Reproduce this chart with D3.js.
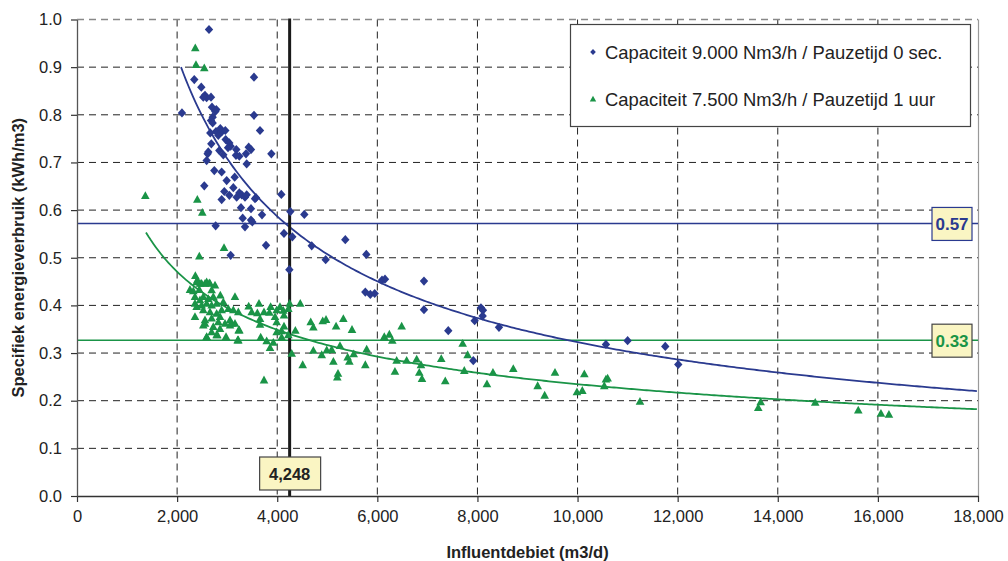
<!DOCTYPE html>
<html>
<head>
<meta charset="utf-8">
<script src="https://cdn.jsdelivr.net/npm/d3@7"></script>
<style>
  html, body { margin: 0; padding: 0; background: #fff; }
  svg { display: block; font-family: "Liberation Sans", Arial, sans-serif; }
</style>
</head>
<body>
<svg id="chart" width="1008" height="561"></svg>
<script>
// ---------- data ----------
const seriesNames = [
  "Capaciteit 9.000 Nm3/h / Pauzetijd 0 sec.",
  "Capaciteit 7.500 Nm3/h / Pauzetijd 1 uur"
];
// Series 1 (blue diamonds): [influent m3/d, kWh/m3]
const blueX = [2637,2343,2483,2557,2590,2523,2677,2697,2783,2763,2097,3536,3536,2710,2677,2710,3656,2663,2777,2863,2890,2963,2823,2970,2683,3043,3070,3017,3183,3430,3476,2623,2610,2843,2923,3176,3243,3376,3883,2590,3390,2743,2890,2990,3150,2543,2943,3043,3123,2890,3190,3243,3290,3356,3390,3276,3476,3556,3576,4082,3696,3310,3476,3503,3356,2770,4262,4541,4135,4302,3776,5360,4689,3070,4242,4968,5780,6093,6153,6932,5760,5860,5947,6932,7417,8070,8110,8104,7944,8430,10567,11000,11752,12012,7917];
const blueY = [0.979,0.874,0.858,0.841,0.836,0.837,0.837,0.816,0.811,0.807,0.804,0.879,0.799,0.795,0.788,0.783,0.767,0.762,0.765,0.771,0.764,0.767,0.757,0.748,0.739,0.741,0.734,0.731,0.727,0.732,0.727,0.722,0.718,0.725,0.716,0.715,0.713,0.718,0.718,0.704,0.697,0.683,0.680,0.662,0.669,0.651,0.639,0.631,0.647,0.622,0.627,0.636,0.632,0.627,0.632,0.605,0.603,0.624,0.626,0.633,0.590,0.583,0.579,0.575,0.565,0.567,0.597,0.591,0.551,0.544,0.526,0.538,0.525,0.505,0.475,0.496,0.507,0.453,0.455,0.451,0.428,0.423,0.425,0.391,0.347,0.395,0.390,0.378,0.368,0.354,0.318,0.326,0.314,0.276,0.284];
// Series 2 (green triangles)
const greenX = [2363,2377,2543,1365,2404,2503,2937,2444,2364,2404,2257,2324,2457,2557,2643,2757,2863,3156,2357,2357,2557,2590,2690,2803,2977,3210,2857,3057,3057,3230,3156,3430,3636,3869,4055,4249,4460,3490,3603,3736,3843,3989,4122,4222,3656,3956,4135,3656,3989,4135,3989,4089,4222,3670,3789,3922,3856,4089,4289,4362,3736,4509,4669,4722,4909,4975,5176,5321,5494,4722,4889,4989,5088,5122,5254,5408,5441,5528,5214,5200,5760,5787,6139,6240,6299,6486,6386,6586,6786,6872,7277,6352,6838,6892,7357,7705,7804,7737,8190,8310,8716,9203,9343,9549,9988,10095,10135,10534,10567,10601,11247,13658,13610,14748,15608,16061,16221,2390,2490,2590,2657,2443,2690,2357,2457,2523,2623,2723,2390,2490,2590,2690,2790,2923,2523,2657,2790,2890,3023,3123,3223,2557,2690,2823,2957,3090,2523,2723,2857,3243,2790,2590,3223];
const greenY = [0.940,0.905,0.898,0.630,0.622,0.595,0.521,0.503,0.462,0.453,0.433,0.430,0.446,0.446,0.447,0.442,0.421,0.418,0.404,0.376,0.362,0.334,0.344,0.338,0.334,0.327,0.376,0.369,0.358,0.348,0.362,0.398,0.404,0.397,0.397,0.404,0.404,0.386,0.384,0.386,0.385,0.390,0.389,0.393,0.372,0.376,0.379,0.360,0.365,0.356,0.344,0.346,0.338,0.333,0.325,0.322,0.311,0.333,0.299,0.347,0.243,0.275,0.365,0.354,0.367,0.370,0.356,0.372,0.349,0.305,0.296,0.306,0.307,0.282,0.315,0.291,0.282,0.298,0.257,0.249,0.275,0.308,0.334,0.339,0.326,0.356,0.284,0.284,0.287,0.275,0.288,0.261,0.259,0.246,0.241,0.320,0.296,0.263,0.235,0.259,0.267,0.231,0.211,0.259,0.218,0.221,0.256,0.231,0.245,0.247,0.198,0.197,0.185,0.196,0.180,0.173,0.171,0.449,0.446,0.449,0.446,0.433,0.432,0.418,0.411,0.418,0.414,0.418,0.397,0.400,0.404,0.400,0.404,0.407,0.390,0.386,0.383,0.390,0.393,0.390,0.386,0.369,0.373,0.365,0.362,0.362,0.358,0.355,0.351,0.348,0.338,0.333,0.327];
// Power trend lines y = a * x^b, [xStart, yStart, b]
const blueTrend = [2078, 0.90, -0.6526];
const greenTrend = [1378, 0.553, -0.4324];
// Reference values
const refLevels = [0.572, 0.327];
const refLabels = ["0.57", "0.33"];
const refX = 4248;
const refXLabel = "4,248";
// Axes
const xTicks = [0,2000,4000,6000,8000,10000,12000,14000,16000,18000];
const yTicks = [0,0.1,0.2,0.3,0.4,0.5,0.6,0.7,0.8,0.9,1.0];
const xTitle = "Influentdebiet (m3/d)";
const yTitle = "Specifiek energieverbruik (kWh/m3)";

// ---------- layout ----------
const BLUE = "#2a3a8f", GREEN = "#1a9447", BOXFILL = "#faf5c3";
const svg = d3.select("#chart");
const L = 77, R = 978, T = 19.5, B = 496;
const x = d3.scaleLinear().domain([0, 18000]).range([L, R]);
const y = d3.scaleLinear().domain([0, 1]).range([B, T]);

// gridlines
const grid = svg.append("g");
grid.selectAll("line.h").data(yTicks.filter(d => d > 0 && d < 1)).join("line")
  .attr("x1", L).attr("x2", R).attr("y1", d => y(d)).attr("y2", d => y(d))
  .attr("stroke", "#222").attr("stroke-width", 1).attr("stroke-dasharray", "7,5");
grid.selectAll("line.v").data(xTicks.filter(d => d > 0 && d < 18000)).join("line")
  .attr("y1", T).attr("y2", B).attr("x1", d => x(d)).attr("x2", d => x(d))
  .attr("stroke", "#222").attr("stroke-width", 1).attr("stroke-dasharray", "7,5");
// top & right border
svg.append("line").attr("x1", L).attr("x2", R).attr("y1", T).attr("y2", T)
  .attr("stroke", "#888").attr("stroke-width", 1.5).attr("stroke-dasharray", "7,5");
svg.append("line").attr("x1", R + 0.5).attr("x2", R + 0.5).attr("y1", T).attr("y2", B)
  .attr("stroke", "#999").attr("stroke-width", 1.2);

// horizontal reference lines
const refColors = [BLUE, GREEN];
svg.selectAll("line.ref").data(refLevels).join("line")
  .attr("x1", L).attr("x2", R).attr("y1", d => y(d)).attr("y2", d => y(d))
  .attr("stroke", (d, i) => refColors[i]).attr("stroke-width", 1.6);

// trend lines
function trendPts(t) {
  const [x0, y0, b] = t;
  const pts = [];
  for (let v = x0; v <= 18000; v += 50) pts.push([v, y0 * Math.pow(v / x0, b)]);
  return pts;
}
const line = d3.line().x(d => x(d[0])).y(d => y(d[1])).curve(d3.curveLinear);
svg.append("path").attr("d", line(trendPts(blueTrend))).attr("fill", "none")
  .attr("stroke", BLUE).attr("stroke-width", 1.8);
svg.append("path").attr("d", line(trendPts(greenTrend))).attr("fill", "none")
  .attr("stroke", GREEN).attr("stroke-width", 1.8);

// vertical reference line
svg.append("line").attr("x1", x(refX)).attr("x2", x(refX)).attr("y1", T - 1).attr("y2", B)
  .attr("stroke", "#1a1a1a").attr("stroke-width", 3);

// points
const diamondPath = "M0,-4.6L4.2,0L0,4.6L-4.2,0Z";
const triPath = "M0,-4.6L4.3,3.2L-4.3,3.2Z";
svg.append("g").selectAll("path").data(greenX.map((v, i) => [v, greenY[i]])).join("path")
  .attr("d", triPath).attr("transform", d => `translate(${x(d[0])},${y(d[1])})`)
  .attr("fill", GREEN);
svg.append("g").selectAll("path").data(blueX.map((v, i) => [v, blueY[i]])).join("path")
  .attr("d", diamondPath).attr("transform", d => `translate(${x(d[0])},${y(d[1])})`)
  .attr("fill", BLUE);

// axes
const FONT = "Liberation Sans, Arial, sans-serif";
const xAxis = d3.axisBottom(x).tickValues(xTicks).tickFormat(d3.format(",")).tickSize(6).tickSizeOuter(0);
const gx = svg.append("g").attr("transform", `translate(0,${B})`).call(xAxis);
gx.select(".domain").attr("stroke", "#333").attr("stroke-width", 1.3);
gx.selectAll(".tick line").attr("stroke", "#333").attr("stroke-width", 1.2);
gx.selectAll(".tick text").attr("font-size", 16.5).attr("fill", "#222").attr("y", 14).attr("dy", "0.71em")
  .attr("font-family", FONT);
const yAxis = d3.axisLeft(y).tickValues(yTicks).tickFormat(d3.format(".1f")).tickSize(6).tickSizeOuter(0);
const gy = svg.append("g").attr("transform", `translate(${L},0)`).call(yAxis);
gy.select(".domain").attr("stroke", "#555").attr("stroke-width", 1.3);
gy.selectAll(".tick line").attr("stroke", "#333").attr("stroke-width", 1.2);
gy.selectAll(".tick text").attr("font-size", 16.5).attr("fill", "#222").attr("x", -15)
  .attr("font-family", FONT);

// axis titles
svg.append("text").attr("x", (L + R) / 2).attr("y", 558).attr("text-anchor", "middle")
  .attr("font-size", 16.5).attr("font-weight", "bold").attr("fill", "#222").text(xTitle);
svg.append("text").attr("transform", `translate(24,${(T + B) / 2}) rotate(-90)`)
  .attr("text-anchor", "middle").attr("font-size", 16.5).attr("font-weight", "bold")
  .attr("fill", "#222").text(yTitle);

// reference label boxes
refLevels.forEach((v, i) => {
  const cy = y(v);
  svg.append("rect").attr("x", 932).attr("y", cy - 16).attr("width", 40).attr("height", 33)
    .attr("fill", BOXFILL).attr("stroke", i === 0 ? BLUE : "#444").attr("stroke-width", 1.2);
  svg.append("text").attr("x", 952).attr("y", cy + 6.5).attr("text-anchor", "middle")
    .attr("font-size", 17).attr("font-weight", "bold").attr("fill", refColors[i]).text(refLabels[i]);
});
svg.append("rect").attr("x", x(refX) - 30).attr("y", 457).attr("width", 61).attr("height", 33)
  .attr("fill", BOXFILL).attr("stroke", "#444").attr("stroke-width", 1.2);
svg.append("text").attr("x", x(refX)).attr("y", 480).attr("text-anchor", "middle")
  .attr("font-size", 16.5).attr("font-weight", "bold").attr("fill", "#222").text(refXLabel);

// legend
const lg = svg.append("g");
lg.append("rect").attr("x", 570.5).attr("y", 24.5).attr("width", 400).attr("height", 102)
  .attr("fill", "#fff").attr("stroke", "#444").attr("stroke-width", 1.2);
const legendY = [52, 99];
lg.append("path").attr("d", "M0,-3L2.8,0L0,3L-2.8,0Z").attr("transform", `translate(593,${legendY[0]})`).attr("fill", BLUE);
lg.append("path").attr("d", "M0,-3.2L3.2,2.4L-3.2,2.4Z").attr("transform", `translate(593,${legendY[1]})`).attr("fill", GREEN);
seriesNames.forEach((s, i) => {
  lg.append("text").attr("x", 605).attr("y", legendY[i] + 6.5).attr("font-size", 18.4)
    .attr("fill", "#222").text(s);
});
</script>
</body>
</html>
